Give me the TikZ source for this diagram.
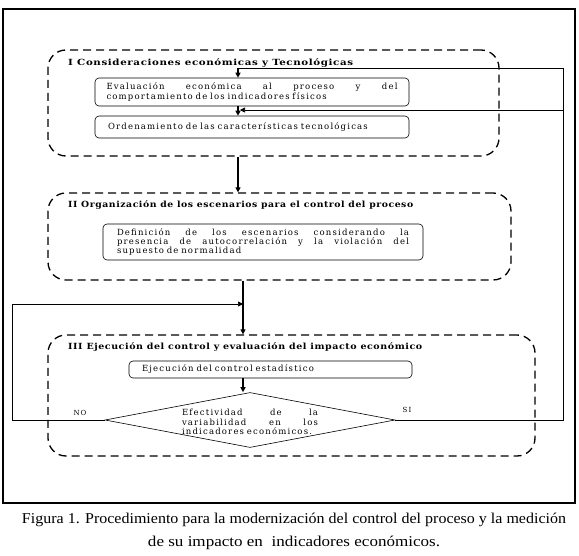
\documentclass[tikz,border=0pt]{standalone}
\usepackage{fontspec}
\setmainfont{Liberation Serif}
\newfontfamily\dfont[LetterSpace=14]{DejaVu Serif}
\newfontfamily\tfont[LetterSpace=6]{DejaVu Serif}
\usetikzlibrary{arrows.meta,shapes.geometric}
\newcommand{\jl}[2]{\makebox[#1][s]{\spaceskip=0.35em plus 1fil\relax #2}}
\newcommand{\fitw}[2]{\resizebox{#1}{\height}{#2}}
\begin{document}
\begin{tikzpicture}[x=1pt,y=-1pt,
  phase/.style={draw, line width=1.3pt, dash pattern=on 8pt off 5pt, rounded corners=18pt, inner sep=0pt},
  procbox/.style={draw, line width=0.6pt, rounded corners=4pt, inner ysep=0pt},
  ptitle/.style={anchor=west, inner sep=0pt, font=\tfont\bfseries\fontsize{8.5}{10}\selectfont},
  ptext/.style={font=\dfont\fontsize{8.5}{9.3}\selectfont, align=left},
  lbl/.style={inner sep=0pt, font=\dfont\fontsize{7}{8}\selectfont},
  captext/.style={inner sep=0pt, font=\fontsize{15}{17}\selectfont},
  flow/.style={line width=1.2pt, -{Triangle[length=5pt,width=5pt]}},
  loopline/.style={line width=0.7pt},
  looparrow/.style={line width=0.7pt, -{Triangle[length=5pt,width=5pt]}}]
\useasboundingbox (0,0) rectangle (579,556);
\draw[line width=1.2pt] (3,9) rectangle (575,503);
% phase I
\node[phase, minimum width=451pt, minimum height=106pt] (boxI) at (273.5,103) {};
\node[ptitle] (tI) at (68,63) {\fitw{285pt}{I Consideraciones económicas y Tecnológicas}};
\node[procbox, ptext, text width=291pt, inner xsep=11.5pt, minimum height=28pt] (eval) at (252,92)
  {\jl{291pt}{Evaluación económica al proceso y del}\\comportamiento de los indicadores físicos};
\node[procbox, ptext, text width=288pt, inner xsep=13pt, minimum height=22pt] (orden) at (252,127)
  {Ordenamiento de las características tecnológicas};
% phase II
\node[phase, minimum width=463pt, minimum height=87pt] (boxII) at (279.5,236.5) {};
\node[ptitle] (tII) at (68,205) {\fitw{345pt}{II Organización de los escenarios para el control del proceso}};
\node[procbox, ptext, text width=292pt, inner xsep=14pt, minimum height=36pt] (def) at (263,242)
  {\jl{292pt}{Definición de los escenarios considerando la}\\\jl{292pt}{presencia de autocorrelación y la violación del}\\supuesto de normalidad};
% phase III
\node[phase, minimum width=487pt, minimum height=121pt] (boxIII) at (291.5,395.5) {};
\node[ptitle] (tIII) at (68,347) {\fitw{354pt}{III Ejecución del control y evaluación del impacto económico}};
\node[procbox, ptext, text width=257pt, inner xsep=13pt, minimum height=17pt] (ejec) at (270.5,369.5)
  {Ejecución del control estadístico};
\node[draw, diamond, line width=0.6pt, inner sep=0pt, minimum width=290pt, minimum height=55pt] (dia) at (250,420) {};
\node[ptext, inner sep=0pt, text width=136pt] (diat) at (250,422)
  {\jl{136pt}{Efectividad de la}\\\jl{136pt}{variabilidad en los}\\indicadores económicos.};
\node[lbl] (no) at (80,413) {NO};
\node[lbl] (si) at (407,410) {SI};
% helper coordinates
\coordinate (cx1) at (238,0);
\coordinate (cx2) at (243,0);
\coordinate (rx) at (563,0);
\coordinate (lx) at (12,0);
\coordinate (ytop) at (0,68);
\coordinate (yl) at (0,304);
\coordinate (rmid) at (563,110);
\coordinate (lmid) at (240,110);
% connectors
\draw[loopline] (dia.east) -- (dia.east -| rx) -- (rx |- ytop) -- (cx1 |- ytop);
\draw[flow] (cx1 |- ytop) -- (eval.north -| cx1);
\draw[flow] (eval.south -| cx1) -- (orden.north -| cx1);
\draw[looparrow] (rmid) -- (lmid);
\draw[flow] (boxI.south -| cx1) -- (boxII.north -| cx1);
\draw[flow] (boxII.south -| cx2) -- (boxIII.north -| cx2);
\draw[loopline] (dia.west) -- (dia.west -| lx) -- (lx |- yl);
\draw[looparrow] (lx |- yl) -- (cx2 |- yl);
\draw[flow] (ejec.south -| cx2) -- (dia.north -| cx2);
% caption
\node[captext] (cap1) at (294,520) {\fitw{544pt}{Figura 1. Procedimiento para la modernización del control del proceso y la medición}};
\node[captext] (cap2) at (294,543) {\fitw{292pt}{de su impacto en\ \ indicadores económicos.}};
\end{tikzpicture}
\end{document}
